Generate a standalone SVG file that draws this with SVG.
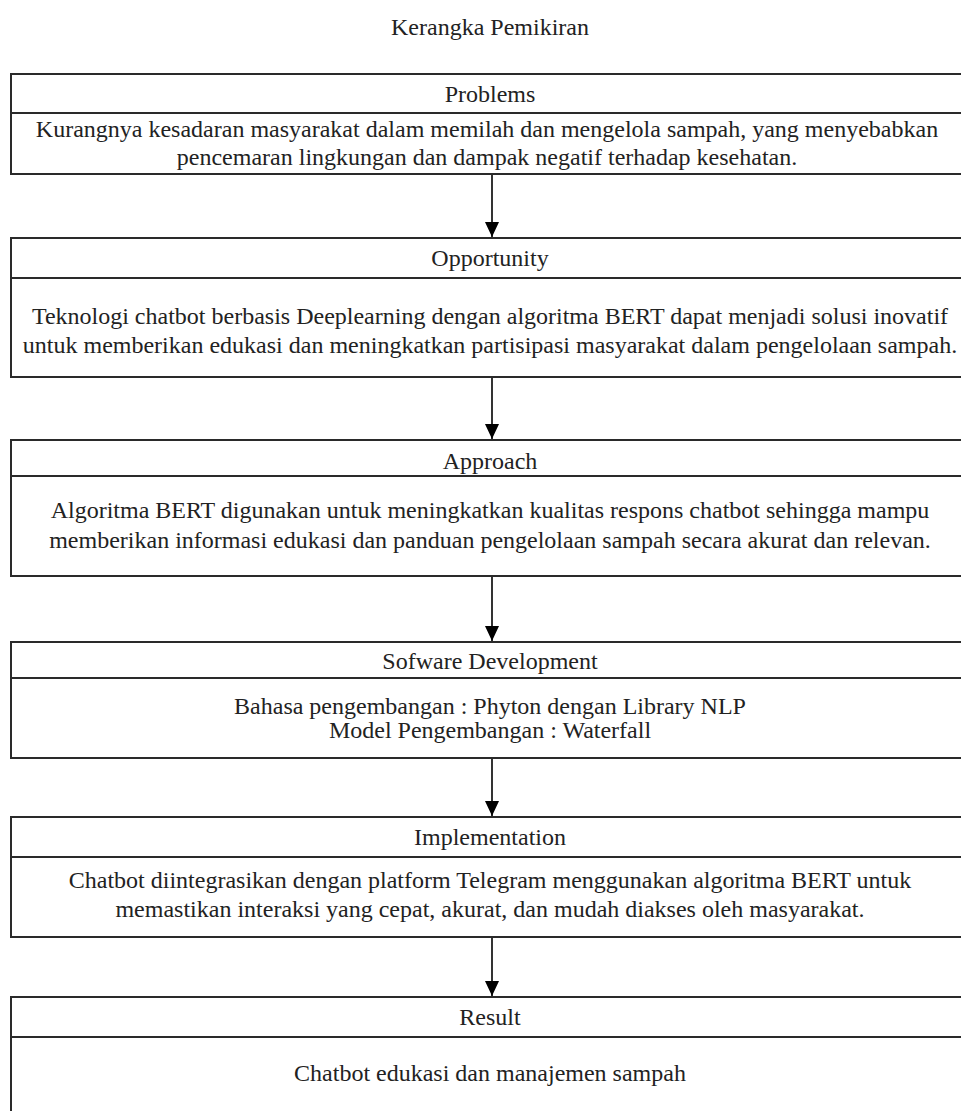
<svg xmlns="http://www.w3.org/2000/svg" width="961" height="1111" viewBox="0 0 961 1111">
<style>
text{font-family:"Liberation Serif","Times New Roman",serif;font-size:24px;fill:#222;text-anchor:middle}
.box{fill:#fff;stroke:#2a2a2a;stroke-width:2}
.div{stroke:#2a2a2a;stroke-width:2}
.conn{stroke:#000;stroke-width:1.6;fill:none}
</style>
<defs>
<marker id="ah" markerUnits="userSpaceOnUse" markerWidth="16" markerHeight="14" refX="15" refY="7" orient="auto" viewBox="0 0 16 14">
<path d="M0,0 L15,7 L0,14 Z" fill="#000"/>
</marker>
</defs>
<rect width="961" height="1111" fill="#fff"/>
<text x="490" y="35">Kerangka Pemikiran</text>
<g id="problems">
<rect class="box" x="11" y="74" width="958" height="100"/>
<line class="div" x1="11" y1="113" x2="969" y2="113"/>
<text x="490" y="102">Problems</text>
<text x="487" y="137">Kurangnya kesadaran masyarakat dalam memilah dan mengelola sampah, yang menyebabkan</text>
<text x="487" y="165">pencemaran lingkungan dan dampak negatif terhadap kesehatan.</text>
</g>
<g id="opportunity">
<rect class="box" x="11" y="238" width="958" height="139"/>
<line class="div" x1="11" y1="278" x2="969" y2="278"/>
<text x="490" y="266">Opportunity</text>
<text x="490" y="324">Teknologi chatbot berbasis Deeplearning dengan algoritma BERT dapat menjadi solusi inovatif</text>
<text x="490" y="353">untuk memberikan edukasi dan meningkatkan partisipasi masyarakat dalam pengelolaan sampah.</text>
</g>
<g id="approach">
<rect class="box" x="11" y="440" width="958" height="136"/>
<line class="div" x1="11" y1="476" x2="969" y2="476"/>
<text x="490" y="469">Approach</text>
<text x="490" y="518">Algoritma BERT digunakan untuk meningkatkan kualitas respons chatbot sehingga mampu</text>
<text x="490" y="548">memberikan informasi edukasi dan panduan pengelolaan sampah secara akurat dan relevan.</text>
</g>
<g id="software">
<rect class="box" x="11" y="642" width="958" height="116"/>
<line class="div" x1="11" y1="678" x2="969" y2="678"/>
<text x="490" y="669">Sofware Development</text>
<text x="490" y="714">Bahasa pengembangan : Phyton dengan Library NLP</text>
<text x="490" y="738">Model Pengembangan : Waterfall</text>
</g>
<g id="implementation">
<rect class="box" x="11" y="817" width="958" height="120"/>
<line class="div" x1="11" y1="857" x2="969" y2="857"/>
<text x="490" y="845">Implementation</text>
<text x="490" y="888">Chatbot diintegrasikan dengan platform Telegram menggunakan algoritma BERT untuk</text>
<text x="490" y="917">memastikan interaksi yang cepat, akurat, dan mudah diakses oleh masyarakat.</text>
</g>
<g id="result">
<rect class="box" x="11" y="997" width="958" height="140"/>
<line class="div" x1="11" y1="1037" x2="969" y2="1037"/>
<text x="490" y="1025">Result</text>
<text x="490" y="1081">Chatbot edukasi dan manajemen sampah</text>
</g>
<g id="connectors">
<line class="conn" x1="492" y1="175" x2="492" y2="237" marker-end="url(#ah)"/>
<line class="conn" x1="492" y1="378" x2="492" y2="439" marker-end="url(#ah)"/>
<line class="conn" x1="492" y1="577" x2="492" y2="641" marker-end="url(#ah)"/>
<line class="conn" x1="492" y1="759" x2="492" y2="816" marker-end="url(#ah)"/>
<line class="conn" x1="492" y1="938" x2="492" y2="996" marker-end="url(#ah)"/>
</g>
</svg>
